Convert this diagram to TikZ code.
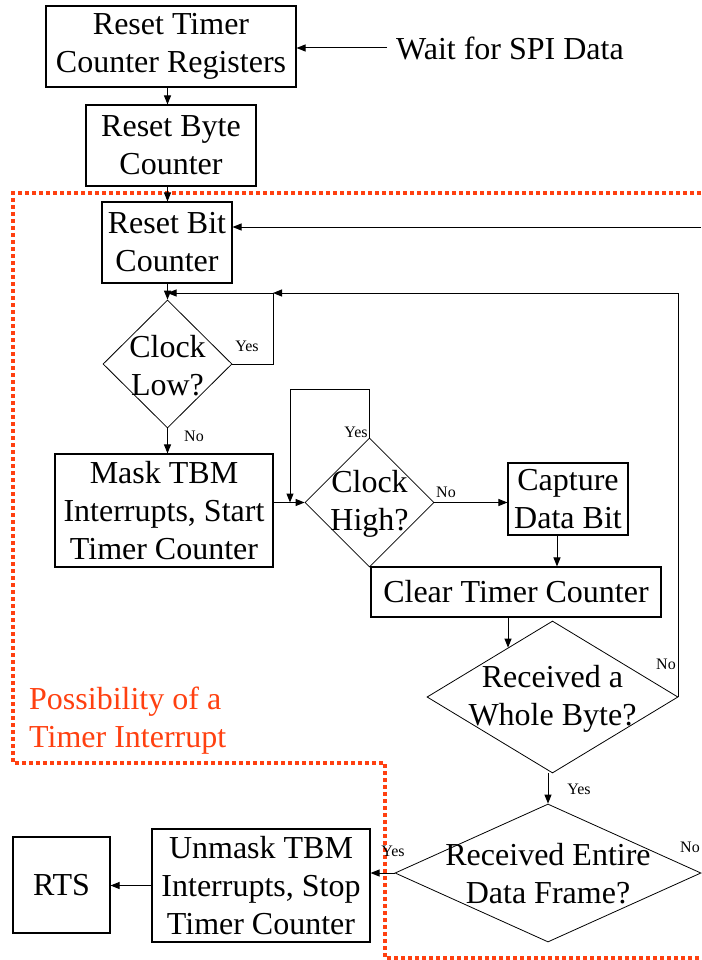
\documentclass[tikz,border=0pt]{standalone}
\usepackage{fontspec}
\setmainfont{Liberation Serif}
\usetikzlibrary{shapes.geometric,arrows.meta,calc}
\definecolor{redline}{RGB}{255,64,16}
\begin{document}
\begin{tikzpicture}[x=1pt,y=-1pt,
  box/.style={draw, line width=1.1pt, inner sep=0pt, align=center, font=\fontsize{32}{38}\selectfont},
  dia/.style={draw, diamond, line width=0.8pt, inner sep=0pt},
  txt/.style={align=center, inner sep=0pt, font=\fontsize{32}{38}\selectfont},
  lbl/.style={inner sep=0pt, font=\fontsize{16}{16}\selectfont},
  arr/.style={line width=1pt, -{Triangle[length=9pt,width=7pt]}},
  ln/.style={line width=1pt},
  region/.style={draw=redline, line width=4pt, dash pattern=on 4pt off 3pt}]
\useasboundingbox (0,0) rectangle (701,960);

% dotted region
\draw[region] (701,193) -- (13,193) -- (13,763) -- (385,763) -- (385,958) -- (701,958);
\node[txt, text=redline, align=left, anchor=west] (poss) at (29,721) {Possibility of a\\Timer Interrupt};

% nodes
\node[box, minimum width=250, minimum height=81] (b1) at (171,46.5) {Reset Timer\\Counter Registers};
\node[txt, anchor=west] (wait) at (396,48) {Wait for SPI Data};
\node[box, minimum width=170, minimum height=81] (b2) at (171,145.5) {Reset Byte\\Counter};
\node[box, minimum width=130, minimum height=81] (b3) at (167,242.5) {Reset Bit\\Counter};
\node[dia, minimum width=129, minimum height=128] (d1) at (167.5,364) {};
\node[txt] (d1t) at (167.5,366) {Clock\\Low?};
\node[box, minimum width=218, minimum height=113] (b4) at (164,510.5) {Mask TBM\\Interrupts, Start\\Timer Counter};
\node[dia, minimum width=129, minimum height=129] (d2) at (369.5,502.5) {};
\node[txt] (d2t) at (369.5,503.5) {Clock\\High?};
\node[box, minimum width=120, minimum height=72] (b5) at (568,499) {Capture\\Data Bit};
\node[box, minimum width=290, minimum height=50] (b6) at (516,592) {Clear Timer Counter};
\node[dia, minimum width=251, minimum height=152] (d3) at (552.5,697) {};
\node[txt] (d3t) at (552.5,699) {Received a\\Whole Byte?};
\node[dia, minimum width=306, minimum height=138] (d4) at (548,873) {};
\node[txt] (d4t) at (548,874) {Received Entire\\Data Frame?};
\node[box, minimum width=218, minimum height=113] (b7) at (261,885.5) {Unmask TBM\\Interrupts, Stop\\Timer Counter};
\node[box, minimum width=97, minimum height=96] (b8) at (61.5,885) {RTS};

\coordinate (loop1) at (273,293);
\coordinate (loop2) at (290,389);
\coordinate (rin) at (701,227);

% connectors
\draw[arr] ([xshift=-9]wait.west) -- (wait.west -| b1.east);
\draw[arr] (b1.south -| d1.north) -- (b2.north -| d1.north);
\draw[arr] (b2.south -| d1.north) -- (b3.north -| d1.north);
\draw[arr] (b3.south -| d1.north) -- (d1.north);
\draw[ln] (d1.east) -| (loop1);
\draw[arr] (loop1) -- (loop1 -| d1.north);
\draw[arr] (d3.east) |- (loop1);
\draw[arr] (rin) -- (rin -| b3.east);
\draw[arr] (d1.south) -- (d1.south |- b4.north);
\draw[arr] (b4.east |- d2.west) -- (d2.west);
\draw[ln] (d2.north) |- (loop2);
\draw[arr] (loop2) -- (loop2 |- d2.west);
\draw[arr] (d2.east) -- (d2.east -| b5.west);
\draw[arr] ([xshift=-11]b5.south) -- ([xshift=-11]b5.south |- b6.north);
\draw[arr] (d3.132 |- b6.south) -- (d3.132);
\draw[arr] (d3.south -| d4.north) -- (d4.north);
\draw[arr] (d4.west) -- (d4.west -| b7.east);
\draw[arr] (b7.west) -- (b7.west -| b8.east);

% labels
\node[lbl] (y1) at (247,346) {Yes};
\node[lbl] (n1) at (194,436) {No};
\node[lbl] (y2) at (356,432) {Yes};
\node[lbl] (n2) at (446,492) {No};
\node[lbl] (n3) at (666,664) {No};
\node[lbl] (y3) at (579,789) {Yes};
\node[lbl] (n4) at (690,847) {No};
\node[lbl] (y4) at (393,851) {Yes};
\end{tikzpicture}
\end{document}
